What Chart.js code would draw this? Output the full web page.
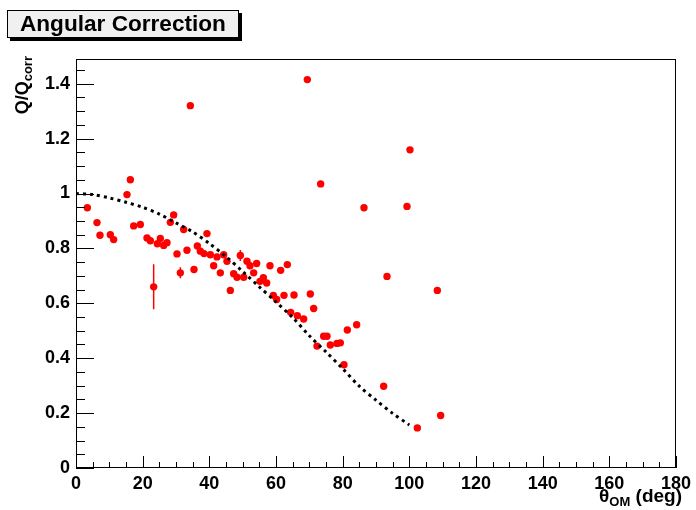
<!DOCTYPE html>
<html>
<head>
<meta charset="utf-8">
<script src="https://cdn.jsdelivr.net/npm/chart.js@4.4.0/dist/chart.umd.min.js"></script>
<style>
  body { margin: 0; background: #fff; }
  #wrap { position: relative; width: 696px; height: 510px; font-family: "Liberation Sans", Arial, sans-serif; }
  #title {
    position: absolute; left: 7px; top: 10px; width: 232px; height: 28px; box-sizing: border-box;
    background: #f0f0f0; border: 1px solid #000; box-shadow: 3px 3px 0 #000;
    font-weight: bold; font-size: 22.6px; line-height: 26px; padding-left: 12px; white-space: nowrap;
  }
  #ytitle {
    position: absolute; left: -89px; top: 56px; width: 100px; height: 22px;
    transform-origin: right top; transform: rotate(-90deg);
    text-align: right; font-weight: bold; font-size: 18px; line-height: 22px; white-space: nowrap;
  }
  #xtitle {
    position: absolute; right: 14px; top: 486px;
    font-weight: bold; font-size: 19px; line-height: 20px; white-space: nowrap;
  }
  sub { font-size: 13px; vertical-align: -4px; }
  canvas { position: absolute; left: 0; top: 0; }
</style>
</head>
<body>
<div id="wrap">
  <canvas id="chart" width="696" height="510"></canvas>
  <div id="title">Angular Correction</div>
  <div id="ytitle">Q/Q<sub>corr</sub></div>
  <div id="xtitle">θ<sub>OM</sub> (deg)</div>
</div>
<script>
// measured points (deg, Q/Qcorr, error)
const thetaDeg = [3.4, 6.3, 7.2, 10.3, 11.3, 15.3, 16.3, 17.3, 19.3, 21.3, 22.3, 23.3, 24.4, 25.3, 26.3,
    27.3, 28.3, 29.3, 30.3, 31.3, 32.3, 33.3, 34.3, 35.4, 36.4, 37.3, 38.4, 39.3, 40.3, 41.3, 42.3,
    43.3, 44.3, 45.3, 46.3, 47.3, 48.3, 49.3, 50.3, 51.3, 52.2, 53.3, 54.2, 55.2, 56.2, 57.2, 58.2,
    59.2, 60.2, 61.4, 62.4, 63.4, 64.4, 65.4, 66.4, 68.3, 69.4, 70.3, 71.3, 72.3, 73.4, 74.3, 75.3,
    76.3, 78.3, 79.3, 80.4, 81.4, 84.2, 86.4, 92.3, 93.3, 99.3, 100.2, 102.4, 108.4, 109.4];
const ratio = [0.948, 0.894, 0.848, 0.850, 0.832, 0.996, 1.050, 0.882, 0.887, 0.838, 0.828, 0.660, 0.817, 0.836, 0.811,
    0.821, 0.895, 0.922, 0.780, 0.711, 0.869, 0.793, 1.320, 0.723, 0.809, 0.790, 0.781, 0.854, 0.777, 0.737, 0.769,
    0.711, 0.777, 0.753, 0.647, 0.708, 0.695, 0.774, 0.695, 0.753, 0.737, 0.711, 0.745, 0.680, 0.693, 0.674, 0.737,
    0.629, 0.614, 0.720, 0.629, 0.741, 0.567, 0.630, 0.555, 0.543, 1.415, 0.634, 0.581, 0.444, 1.035, 0.480, 0.480,
    0.448, 0.454, 0.456, 0.376, 0.503, 0.522, 0.948, 0.298, 0.698, 0.953, 1.159, 0.146, 0.647, 0.191];
const ratioErr = [0, 0, 0, 0, 0, 0, 0, 0, 0, 0, 0, 0.082, 0, 0, 0,
    0, 0, 0, 0, 0.02, 0, 0, 0, 0, 0, 0, 0, 0, 0, 0, 0,
    0, 0, 0, 0, 0, 0, 0.02, 0, 0, 0, 0, 0, 0, 0, 0, 0,
    0, 0, 0, 0, 0, 0, 0, 0, 0, 0, 0, 0, 0, 0, 0, 0,
    0, 0, 0, 0, 0, 0, 0, 0, 0, 0, 0, 0, 0, 0];

// fitted correction curve
const fitTheta = [0, 5, 10, 15, 20, 25, 30, 35, 40, 45, 50, 55, 60, 65, 70, 75, 80, 85, 90, 95, 100];
const fitValue = [1.000, 0.996, 0.984, 0.968, 0.950, 0.925, 0.893, 0.860, 0.818, 0.770, 0.716, 0.660, 0.605,
    0.548, 0.482, 0.423, 0.362, 0.298, 0.247, 0.199, 0.157];

const xTicks = [0, 20, 40, 60, 80, 100, 120, 140, 160, 180];
const yTicks = [0, 0.2, 0.4, 0.6, 0.8, 1.0, 1.2, 1.4];
const yTickLabels = ['0', '0.2', '0.4', '0.6', '0.8', '1', '1.2', '1.4'];

const tickFont = { family: '"Liberation Sans", Arial, sans-serif', size: 18, weight: 'bold' };

// ROOT style frame with ticks pointing inwards
const rootFrame = {
    id: 'rootFrame',
    afterDraw(chart) {
        const { ctx, chartArea: a, scales: { x, y } } = chart;
        ctx.save();
        ctx.strokeStyle = '#000';
        ctx.lineWidth = 1;
        ctx.strokeRect(a.left + 0.5, a.top + 0.5, a.right - a.left - 1, a.bottom - a.top - 1);
        ctx.beginPath();
        for (let i = 0; i <= 36; i++) {
            const px = Math.round(x.getPixelForValue(i * 5)) + 0.5;
            const len = i % 4 === 0 ? 12 : 6;
            ctx.moveTo(px, a.bottom);
            ctx.lineTo(px, a.bottom - len);
        }
        for (let i = 0; i <= 29; i++) {
            const py = Math.round(y.getPixelForValue(i * 0.05)) + 0.5;
            const len = i % 4 === 0 ? 18 : 9;
            ctx.moveTo(a.left, py);
            ctx.lineTo(a.left + len, py);
        }
        ctx.stroke();
        ctx.restore();
    }
};

const errorBars = {
    id: 'errorBars',
    beforeDatasetsDraw(chart) {
        const { ctx, scales: { x, y } } = chart;
        ctx.save();
        ctx.strokeStyle = '#ff0000';
        ctx.lineWidth = 1.5;
        ctx.beginPath();
        thetaDeg.forEach((t, i) => {
            if (!ratioErr[i]) return;
            const px = x.getPixelForValue(t);
            ctx.moveTo(px, y.getPixelForValue(ratio[i] - ratioErr[i]));
            ctx.lineTo(px, y.getPixelForValue(ratio[i] + ratioErr[i]));
        });
        ctx.stroke();
        ctx.restore();
    }
};

new Chart(document.getElementById('chart'), {
    type: 'scatter',
    data: {
        datasets: [
            {
                label: 'fit',
                data: fitTheta.map((t, i) => ({ x: t, y: fitValue[i] })),
                showLine: true,
                borderColor: '#000',
                borderWidth: 3,
                borderDash: [3, 4],
                pointRadius: 0,
                tension: 0.3,
                fill: false
            },
            {
                label: 'Q/Qcorr',
                data: thetaDeg.map((t, i) => ({ x: t, y: ratio[i] })),
                backgroundColor: '#ff0000',
                borderWidth: 0,
                pointRadius: 3.7
            }
        ]
    },
    options: {
        responsive: false,
        animation: false,
        layout: { padding: { top: 59, right: 16, left: 0, bottom: 0 } },
        plugins: { legend: { display: false }, tooltip: { enabled: false } },
        scales: {
            x: {
                type: 'linear',
                min: 0,
                max: 180,
                afterBuildTicks: s => { s.ticks = xTicks.map(v => ({ value: v })); },
                afterFit: s => { s.height = 42; },
                ticks: { font: tickFont, color: '#000', padding: 5, maxRotation: 0, autoSkip: false },
                grid: { display: false, drawTicks: false },
                border: { display: false }
            },
            y: {
                type: 'linear',
                min: 0,
                max: 1.49,
                afterBuildTicks: s => { s.ticks = yTicks.map(v => ({ value: v })); },
                afterFit: s => { s.width = 76; },
                ticks: {
                    font: tickFont, color: '#000', padding: 6, autoSkip: false,
                    callback: (v, i) => yTickLabels[i]
                },
                grid: { display: false, drawTicks: false },
                border: { display: false }
            }
        }
    },
    plugins: [rootFrame, errorBars]
});
</script>
</body>
</html>
